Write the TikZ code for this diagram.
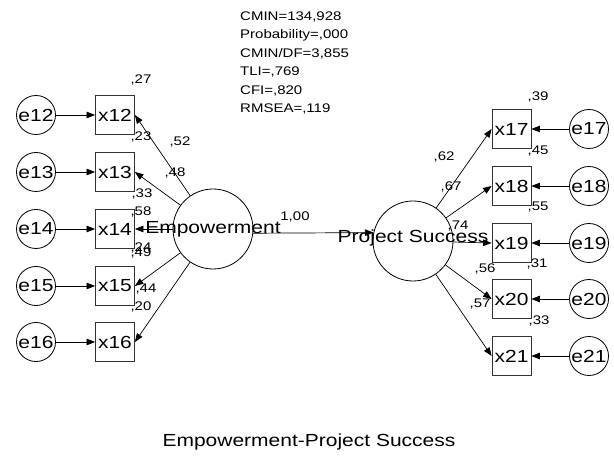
\documentclass[tikz,border=0pt]{standalone}
\usepackage{fontspec}
\setmainfont{Liberation Sans}[FakeStretch=1.2]
\usetikzlibrary{arrows.meta}
\newcommand\myBig{\fontsize{17.5bp}{20bp}\selectfont}
\newcommand\mySmall{\fontsize{12.5bp}{15bp}\selectfont}
\begin{document}
\begin{tikzpicture}[x=1bp,y=-1bp,
  lat/.style={circle,draw,line width=0.8bp,minimum size=80bp,inner sep=0pt},
  obs/.style={rectangle,draw=black!80,line width=0.8bp,minimum size=39bp,inner sep=0pt,font=\myBig},
  err/.style={circle,draw,line width=0.8bp,minimum size=39bp,inner sep=0pt,font=\myBig},
  ltxt/.style={font=\myBig,inner sep=0pt},
  lbl/.style={font=\mySmall,inner sep=0pt},
  stat/.style={font=\mySmall,inner sep=0pt,anchor=base west},
  conn/.style={-{Triangle[length=8.5bp,width=6.5bp]},line width=0.7bp}]
\useasboundingbox[fill=white] (0,0) rectangle (614,461);
% fit statistics
\node[stat] (s1) at (240,20.5) {CMIN=134,928};
\node[stat] (s2) at (240,38.9) {Probability=,000};
\node[stat] (s3) at (240,57.3) {CMIN/DF=3,855};
\node[stat] (s4) at (240,75.7) {TLI=,769};
\node[stat] (s5) at (240,94.1) {CFI=,820};
\node[stat] (s6) at (240,112.5) {RMSEA=,119};
% latent variables
\node[lat] (emp) at (213,229) {};
\node[lat] (ps) at (413,241) {};
% left indicators
\node[obs] (x12) at (115,115) {x12};
\node[obs] (x13) at (115,172) {x13};
\node[obs] (x14) at (115,229) {x14};
\node[obs] (x15) at (115,286) {x15};
\node[obs] (x16) at (115,342) {x16};
\node[err] (e12) at (36,115) {e12};
\node[err] (e13) at (36,172) {e13};
\node[err] (e14) at (36,229) {e14};
\node[err] (e15) at (36,286) {e15};
\node[err] (e16) at (36,342) {e16};
% right indicators
\node[obs] (x17) at (511.5,129) {x17};
\node[obs] (x18) at (511.5,186) {x18};
\node[obs] (x19) at (511.5,243) {x19};
\node[obs] (x20) at (511.5,299) {x20};
\node[obs] (x21) at (511.5,356) {x21};
\node[err] (e17) at (589,129) {e17};
\node[err] (e18) at (589,186) {e18};
\node[err] (e19) at (589,243) {e19};
\node[err] (e20) at (589,299) {e20};
\node[err] (e21) at (589,356) {e21};
% connectors
\foreach \i in {12,...,16} {\draw[conn] (e\i) -- (x\i);}
\foreach \i in {17,...,21} {\draw[conn] (e\i) -- (x\i);}
\foreach \i in {12,...,16} {\draw[conn] (emp) -- (x\i.east);}
\foreach \i in {17,...,21} {\draw[conn] (ps) -- (x\i.west);}
\draw[conn] (emp.-6) -- (ps.168);
% latent names (drawn over lines)
\node[ltxt] (empt) at (213,229) {Empowerment};
\node[ltxt] (pst) at (413,238) {Project Success};
% estimates
\node[lbl] (l27) at (141,80) {,27};
\node[lbl] (l23) at (141,137) {,23};
\node[lbl] (l52) at (180,142) {,52};
\node[lbl] (l48) at (175,173) {,48};
\node[lbl] (l33) at (142,194) {,33};
\node[lbl] (l58) at (141,212) {,58};
\node[lbl] (l24) at (141,248) {,24};
\node[lbl] (l49) at (141,253) {,49};
\node[lbl] (l44) at (146,289) {,44};
\node[lbl] (l20) at (141,307) {,20};
\node[lbl] (l100) at (295,217) {1,00};
\node[lbl] (l39) at (538,97) {,39};
\node[lbl] (l45) at (538,151) {,45};
\node[lbl] (l62) at (444,157) {,62};
\node[lbl] (l67) at (451,187) {,67};
\node[lbl] (l55) at (538,207) {,55};
\node[lbl] (l74) at (458,226) {,74};
\node[lbl] (l56) at (485,269) {,56};
\node[lbl] (l31) at (537,264) {,31};
\node[lbl] (l57) at (480,304) {,57};
\node[lbl] (l33b) at (539,321) {,33};
% title
\node[ltxt,anchor=base] (title) at (309,446) {Empowerment-Project Success};
\end{tikzpicture}
\end{document}
